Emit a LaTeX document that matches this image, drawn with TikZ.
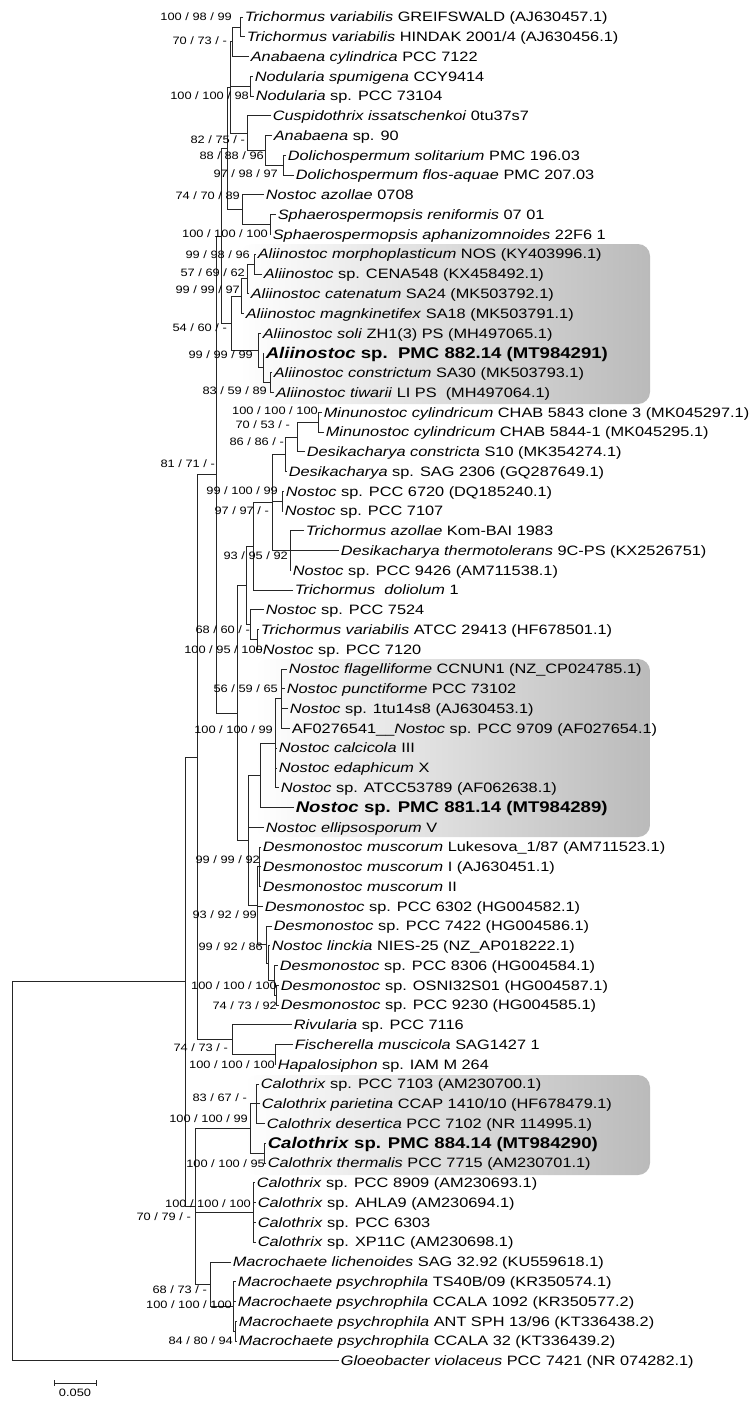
\documentclass[tikz,border=0pt]{standalone}
\usepackage{fontspec}
\setmainfont{Liberation Sans}[FakeStretch=1.2]
\usetikzlibrary{calc}
\tikzset{
  x=1pt, y=1pt,
  br/.style={line width=0.75pt, black!85},
  leaf/.style={anchor=west, inner xsep=1.6pt, inner ysep=0pt, text height=9.7pt, text depth=0pt, font=\fontsize{13.6}{15}\selectfont},
  leafb/.style={leaf, text height=11pt, font=\fontsize{15.5}{17}\selectfont\bfseries},
  bs/.style={anchor=east, inner sep=0pt, text height=7.6pt, text depth=0pt, font=\fontsize{10.7}{12}\selectfont},
  cladebox/.style={rounded corners=12pt, left color=white, right color=black!27},
}
\newcommand\lf[3]{\coordinate (L#1) at (#2,{-17-(#1-1)*19.76});\node[leaf] (t#1) at (L#1) {#3};}
\newcommand\lfb[3]{\coordinate (L#1) at (#2,{-17-(#1-1)*19.76});\node[leafb] (t#1) at (L#1) {#3};}
\newcommand\cl[4]{\path let \p1=($(#3)!0.5!(#4)$) in coordinate (#1) at (#2pt,\y1);}
\newcommand\ed[2]{\foreach \kid in {#2}{\draw[br] (\kid) -| (#1);}}
\newcommand\bsl[4]{\node[bs] (#1) at (#2,-#3) {#4};}
\begin{document}
\begin{tikzpicture}
\useasboundingbox (0,0) rectangle (752,-1403);
% shaded clade boxes
\shade[cladebox] (240,-244) rectangle (650,-404);
\shade[cladebox] (255,-659) rectangle (650,-837);
\shade[cladebox] (245,-1075) rectangle (650,-1175);
% leaves
\lf{1}{243}{\textit{Trichormus variabilis} GREIFSWALD (AJ630457.1)}
\lf{2}{245}{\textit{Trichormus variabilis} HINDAK 2001/4 (AJ630456.1)}
\lf{3}{249}{\textit{Anabaena cylindrica} PCC 7122}
\lf{4}{253}{\textit{Nodularia spumigena} CCY9414}
\lf{5}{254}{\textit{Nodularia} sp. PCC 73104}
\lf{6}{271}{\textit{Cuspidothrix issatschenkoi} 0tu37s7}
\lf{7}{272}{\textit{Anabaena} sp. 90}
\lf{8}{286}{\textit{Dolichospermum solitarium} PMC 196.03}
\lf{9}{294}{\textit{Dolichospermum flos-aquae} PMC 207.03}
\lf{10}{264}{\textit{Nostoc azollae} 0708}
\lf{11}{276}{\textit{Sphaerospermopsis reniformis} 07 01}
\lf{12}{271}{\textit{Sphaerospermopsis aphanizomnoides} 22F6 1}
\lf{13}{256}{\textit{Aliinostoc morphoplasticum} NOS (KY403996.1)}
\lf{14}{262}{\textit{Aliinostoc} sp. CENA548 (KX458492.1)}
\lf{15}{249}{\textit{Aliinostoc catenatum} SA24 (MK503792.1)}
\lf{16}{244}{\textit{Aliinostoc magnkinetifex} SA18 (MK503791.1)}
\lf{17}{261}{\textit{Aliinostoc soli} ZH1(3) PS (MH497065.1)}
\lfb{18}{264}{\textit{Aliinostoc} sp.\ \ PMC 882.14 (MT984291)}
\lf{19}{272}{\textit{Aliinostoc constrictum} SA30 (MK503793.1)}
\lf{20}{274}{\textit{Aliinostoc tiwarii} LI PS\ \ (MH497064.1)}
\lf{21}{322}{\textit{Minunostoc cylindricum} CHAB 5843 clone 3 (MK045297.1)}
\lf{22}{324}{\textit{Minunostoc cylindricum} CHAB 5844-1 (MK045295.1)}
\lf{23}{305}{\textit{Desikacharya constricta} S10 (MK354274.1)}
\lf{24}{287}{\textit{Desikacharya} sp. SAG 2306 (GQ287649.1)}
\lf{25}{284}{\textit{Nostoc} sp. PCC 6720 (DQ185240.1)}
\lf{26}{283}{\textit{Nostoc} sp. PCC 7107}
\lf{27}{304}{\textit{Trichormus azollae} Kom-BAI 1983}
\lf{28}{339}{\textit{Desikacharya thermotolerans} 9C-PS (KX2526751)}
\lf{29}{291}{\textit{Nostoc} sp. PCC 9426 (AM711538.1)}
\lf{30}{293}{\textit{Trichormus\ \ doliolum} 1}
\lf{31}{264}{\textit{Nostoc} sp. PCC 7524}
\lf{32}{259}{\textit{Trichormus variabilis} ATCC 29413 (HF678501.1)}
\lf{33}{261}{\textit{Nostoc} sp. PCC 7120}
\lf{34}{287}{\textit{Nostoc flagelliforme} CCNUN1 (NZ\_CP024785.1)}
\lf{35}{285}{\textit{Nostoc punctiforme} PCC 73102}
\lf{36}{288}{\textit{Nostoc} sp. 1tu14s8 (AJ630453.1)}
\lf{37}{290}{AF0276541\_\_\textit{Nostoc} sp. PCC 9709 (AF027654.1)}
\lf{38}{277}{\textit{Nostoc calcicola} III}
\lf{39}{277}{\textit{Nostoc edaphicum} X}
\lf{40}{279}{\textit{Nostoc} sp. ATCC53789 (AF062638.1)}
\lfb{41}{294}{\textit{Nostoc} sp. PMC 881.14 (MT984289)}
\lf{42}{264}{\textit{Nostoc ellipsosporum} V}
\lf{43}{261}{\textit{Desmonostoc muscorum} Lukesova\_1/87 (AM711523.1)}
\lf{44}{261}{\textit{Desmonostoc muscorum} I (AJ630451.1)}
\lf{45}{261}{\textit{Desmonostoc muscorum} II}
\lf{46}{263}{\textit{Desmonostoc} sp. PCC 6302 (HG004582.1)}
\lf{47}{272}{\textit{Desmonostoc} sp. PCC 7422 (HG004586.1)}
\lf{48}{270}{\textit{Nostoc linckia} NIES-25 (NZ\_AP018222.1)}
\lf{49}{278}{\textit{Desmonostoc} sp. PCC 8306 (HG004584.1)}
\lf{50}{279}{\textit{Desmonostoc} sp. OSNI32S01 (HG004587.1)}
\lf{51}{279}{\textit{Desmonostoc} sp. PCC 9230 (HG004585.1)}
\lf{52}{292}{\textit{Rivularia} sp. PCC 7116}
\lf{53}{293}{\textit{Fischerella muscicola} SAG1427 1}
\lf{54}{276}{\textit{Hapalosiphon} sp. IAM M 264}
\lf{55}{259}{\textit{Calothrix} sp. PCC 7103 (AM230700.1)}
\lf{56}{260}{\textit{Calothrix parietina} CCAP 1410/10 (HF678479.1)}
\lf{57}{265}{\textit{Calothrix desertica} PCC 7102 (NR 114995.1)}
\lfb{58}{266}{\textit{Calothrix} sp. PMC 884.14 (MT984290)}
\lf{59}{266}{\textit{Calothrix thermalis} PCC 7715 (AM230701.1)}
\lf{60}{255}{\textit{Calothrix} sp. PCC 8909 (AM230693.1)}
\lf{61}{256}{\textit{Calothrix} sp. AHLA9 (AM230694.1)}
\lf{62}{256}{\textit{Calothrix} sp. PCC 6303}
\lf{63}{256}{\textit{Calothrix} sp. XP11C (AM230698.1)}
\lf{64}{231}{\textit{Macrochaete lichenoides} SAG 32.92 (KU559618.1)}
\lf{65}{236}{\textit{Macrochaete psychrophila} TS40B/09 (KR350574.1)}
\lf{66}{236}{\textit{Macrochaete psychrophila} CCALA 1092 (KR350577.2)}
\lf{67}{237}{\textit{Macrochaete psychrophila} ANT SPH 13/96 (KT336438.2)}
\lf{68}{237}{\textit{Macrochaete psychrophila} CCALA 32 (KT336439.2)}
\lf{69}{339}{\textit{Gloeobacter violaceus} PCC 7421 (NR 074282.1)}
% internal nodes and branches
\cl{A1}{240}{L1}{L2} \ed{A1}{L1,L2}
\cl{A2}{232}{A1}{L3} \ed{A2}{A1,L3}
\cl{Nod}{250}{L4}{L5} \ed{Nod}{L4,L5}
\cl{Dol}{283}{L8}{L9} \ed{Dol}{L8,L9}
\cl{AD}{265}{L7}{Dol} \ed{AD}{L7,Dol}
\cl{C1}{247}{L6}{AD} \ed{C1}{L6,AD}
\cl{T0}{230}{A2}{C1} \ed{T0}{A2,Nod,C1}
\cl{Sph}{270}{L11}{L12} \ed{Sph}{L11,L12}
\cl{S1}{242}{L10}{Sph} \ed{S1}{L10,Sph}
\cl{T}{227}{T0}{S1} \ed{T}{T0,S1}
\cl{B1}{254}{L13}{L14} \ed{B1}{L13,L14}
\cl{B2}{247}{B1}{L15} \ed{B2}{B1,L15}
\cl{B3}{241}{B2}{L16} \ed{B3}{B2,L16}
\cl{B5}{270}{L19}{L20} \ed{B5}{L19,L20}
\cl{B6}{263}{L18}{B5} \ed{B6}{L18,B5}
\cl{B7}{258}{L17}{B6} \ed{B7}{L17,B6}
\cl{B8}{231}{B3}{B7} \ed{B8}{B3,B7}
\cl{K}{221}{T}{B8} \ed{K}{T,B8}
\cl{M1}{318}{L21}{L22} \ed{M1}{L21,L22}
\cl{M2}{297}{M1}{L23} \ed{M2}{M1,L23}
\cl{M3}{285}{M2}{L24} \ed{M3}{M2,L24}
\cl{N1}{282}{L25}{L26} \ed{N1}{L25,L26}
\cl{N2}{290}{L27}{L29} \ed{N2}{L27,L28,L29}
\cl{N3}{272}{M3}{N2} \ed{N3}{M3,N1,N2}
\cl{N4}{253}{N3}{L30} \ed{N4}{N3,L30}
\cl{P1}{257}{L32}{L33} \ed{P1}{L32,L33}
\cl{P2}{250}{L31}{P1} \ed{P2}{L31,P1}
\cl{N5}{246}{N4}{P2} \ed{N5}{N4,P2}
\cl{Q1}{281}{L34}{L37} \ed{Q1}{L34,L35,L36,L37}
\cl{Q2}{275}{Q1}{L40} \ed{Q2}{Q1,L38,L39,L40}
\cl{Q3}{260}{Q2}{L41} \ed{Q3}{Q2,L41}
\cl{D1}{259}{L43}{L45} \ed{D1}{L43,L44,L45}
\cl{D4a}{276}{L50}{L51} \ed{D4a}{L50,L51}
\cl{D4}{274}{L49}{D4a} \ed{D4}{L49,D4a}
\cl{D6}{268}{L48}{D4} \ed{D6}{L48,D4}
\cl{D5}{266}{L47}{D6} \ed{D5}{L47,D6}
\cl{D2}{257}{D1}{D5} \ed{D2}{D1,L46,D5}
\cl{Q4}{248}{Q3}{D2} \ed{Q4}{Q3,L42,D2}
\cl{R}{237}{N5}{Q4} \ed{R}{N5,Q4}
\cl{S}{216}{K}{R} \ed{S}{K,R}
\cl{FH}{275}{L53}{L54} \ed{FH}{L53,L54}
\cl{V}{232}{L52}{FH} \ed{V}{L52,FH}
\cl{U}{197}{S}{V} \ed{U}{S,V}
\cl{Y2}{256}{L55}{L57} \ed{Y2}{L55,L56,L57}
\cl{Y1}{264}{L58}{L59} \ed{Y1}{L58,L59}
\cl{Y3}{250}{Y2}{Y1} \ed{Y3}{Y2,Y1}
\cl{Cal2}{253}{L60}{L63} \ed{Cal2}{L60,L61,L62,L63}
\cl{Mq}{235}{L67}{L68} \ed{Mq}{L67,L68}
\cl{Mp}{233}{L65}{Mq} \ed{Mp}{L65,L66,Mq}
\cl{Mac}{210}{L64}{Mp} \ed{Mac}{L64,Mp}
\cl{Z}{195}{Y3}{Mac} \ed{Z}{Y3,Cal2,Mac}
\cl{W}{185}{U}{Z} \ed{W}{U,Z}
\cl{Root}{12}{W}{L69} \ed{Root}{W,L69}
% bootstrap labels
\bsl{b1}{232}{17}{100 / 98 / 99}
\bsl{b2}{227}{41}{70 / 73 / -}
\bsl{b3}{249}{96}{100 / 100 / 98}
\bsl{b4}{245}{140}{82 / 75 / -}
\bsl{b5}{264}{156}{88 / 88 / 96}
\bsl{b6}{278}{174}{97 / 98 / 97}
\bsl{b7}{240}{196}{74 / 70 / 89}
\bsl{b8}{268}{234}{100 / 100 / 100}
\bsl{b9}{250}{255}{99 / 98 / 96}
\bsl{b10}{245}{273}{57 / 69 / 62}
\bsl{b11}{240}{290}{99 / 99 / 97}
\bsl{b12}{227}{328}{54 / 60 / -}
\bsl{b13}{253}{355}{99 / 99 / 99}
\bsl{b14}{267}{391}{83 / 59 / 89}
\bsl{b15}{318}{411}{100 / 100 / 100}
\bsl{b16}{290}{425}{70 / 53 / -}
\bsl{b17}{284}{442}{86 / 86 / -}
\bsl{b18}{215}{464}{81 / 71 / -}
\bsl{b19}{278}{491}{99 / 100 / 99}
\bsl{b20}{269}{511}{97 / 97 / -}
\bsl{b21}{288}{556}{93 / 95 / 92}
\bsl{b22}{250}{630}{68 / 60 / -}
\bsl{b23}{263}{650}{100 / 95 / 100}
\bsl{b24}{278}{689}{56 / 59 / 65}
\bsl{b25}{273}{730}{100 / 100 / 99}
\bsl{b26}{260}{860}{99 / 99 / 92}
\bsl{b27}{257}{915}{93 / 92 / 99}
\bsl{b28}{263}{947}{99 / 92 / 86}
\bsl{b29}{277}{986}{100 / 100 / 100}
\bsl{b30}{277}{1006}{74 / 73 / 92}
\bsl{b31}{228}{1048}{74 / 73 / -}
\bsl{b32}{275}{1065}{100 / 100 / 100}
\bsl{b33}{247}{1098}{83 / 67 / -}
\bsl{b34}{248}{1119}{100 / 100 / 99}
\bsl{b35}{265}{1164}{100 / 100 / 95}
\bsl{b36}{251}{1204}{100 / 100 / 100}
\bsl{b37}{191}{1217}{70 / 79 / -}
\bsl{b38}{207}{1290}{68 / 73 / -}
\bsl{b39}{232}{1305}{100 / 100 / 100}
\bsl{b40}{233}{1341}{84 / 80 / 94}
% scale bar
\coordinate (sbL) at (54,-1383);
\coordinate (sbR) at (96,-1383);
\draw[br] (sbL) -- (sbR);
\draw[br] ($(sbL)+(0,3)$) -- ($(sbL)+(0,-3)$);
\draw[br] ($(sbR)+(0,3)$) -- ($(sbR)+(0,-3)$);
\node[bs, anchor=north] (sbt) at ($(sbL)!0.5!(sbR)+(0,-6)$) {0.050};
\end{tikzpicture}
\end{document}
